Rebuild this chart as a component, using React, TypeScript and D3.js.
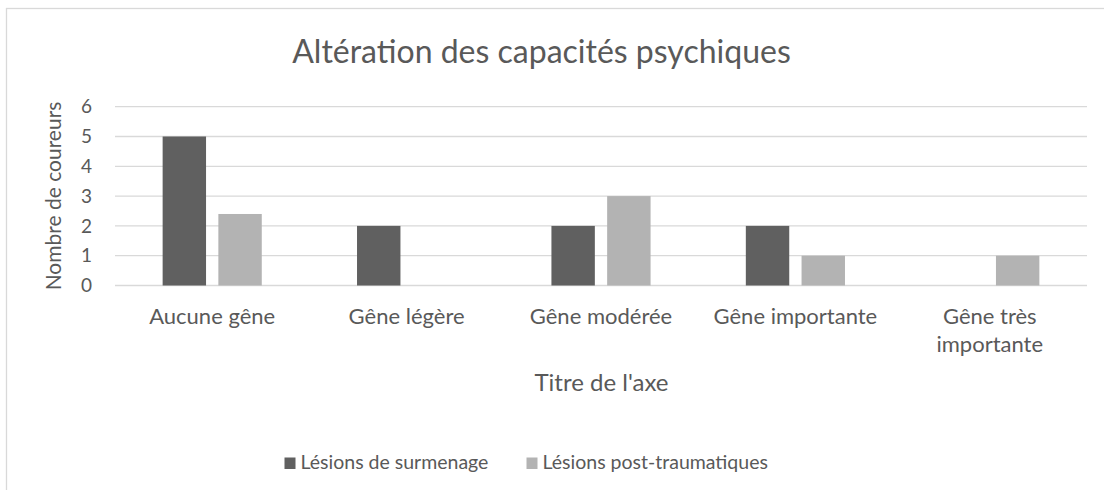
import React from "react";
import * as d3 from "d3";

const categories = ["Aucune gêne", "Gêne légère", "Gêne modérée", "Gêne importante", "Gêne très importante"];
const seriesNames = ["Lésions de surmenage", "Lésions post-traumatiques"];
const surmenage = [5, 2, 2, 2, 0];
const postTrauma = [2.4, 0, 3, 1, 1];
const yTicks = [0, 1, 2, 3, 4, 5, 6];
const colors = ["#606060", "#b3b3b3"];

const W = 1104;
const H = 490;
const font = "Lato, 'Open Sans', sans-serif";
const textColor = "#595959";

// wrap long category labels on two lines like Excel does
const labelLines = (c: string) => (c === "Gêne très importante" ? ["Gêne très", "importante"] : [c]);

export default function App() {
  const x0 = d3.scaleBand().domain(categories).range([115, 1087]).paddingInner(0).paddingOuter(0);
  const bw = x0.bandwidth();
  const x1 = d3
    .scaleBand()
    .domain(seriesNames)
    .range([bw * 0.245, bw * 0.755])
    .paddingInner(0.221)
    .paddingOuter(0);
  const y = d3.scaleLinear().domain([0, 6]).range([285.5, 106.7]);

  const values = [surmenage, postTrauma];

  return (
    <svg width={W} height={H} style={{ position: "absolute", left: 0, top: 0, background: "#fff" }}>
      <rect x={6.5} y={8.5} width={1300} height={700} fill="#fff" stroke="#d9d9d9" strokeWidth={1.3} />

      <text x={541.5} y={63} textAnchor="middle" fontFamily={font} fontSize={32} fill={textColor}>
        Altération des capacités psychiques
      </text>

      {yTicks.map((t) => (
        <g key={t}>
          <line x1={115} x2={1087} y1={y(t)} y2={y(t)} stroke="#d9d9d9" strokeWidth={1.3} />
          <text x={92} y={y(t)} dy="0.35em" textAnchor="end" fontFamily={font} fontSize={19} fill={textColor}>
            {t}
          </text>
        </g>
      ))}

      {categories.map((c, i) => (
        <g key={c} transform={`translate(${x0(c)},0)`}>
          {seriesNames.map((s, j) => {
            const v = values[j][i];
            if (!v) return null;
            return (
              <rect
                key={s}
                x={x1(s)}
                y={y(v)}
                width={x1.bandwidth()}
                height={y(0) - y(v)}
                fill={colors[j]}
              />
            );
          })}
          <text textAnchor="middle" fontFamily={font} fontSize={22} fill={textColor}>
            {labelLines(c).map((l, k) => (
              <tspan key={k} x={bw / 2} y={323.5 + k * 28.5}>
                {l}
              </tspan>
            ))}
          </text>
        </g>
      ))}

      <text x={601.5} y={391} textAnchor="middle" fontFamily={font} fontSize={24} fill={textColor}>
        Titre de l'axe
      </text>

      <text
        transform="translate(61,196) rotate(-90)"
        textAnchor="middle"
        fontFamily={font}
        fontSize={21}
        fill={textColor}
      >
        Nombre de coureurs
      </text>

      {seriesNames.map((s, j) => {
        const lx = [284.5, 526.5][j];
        return (
          <g key={s}>
            <rect x={lx} y={457.5} width={11} height={11.5} fill={colors[j]} />
            <text x={lx + 16} y={469} fontFamily={font} fontSize={19.5} fill={textColor}>
              {s}
            </text>
          </g>
        );
      })}
    </svg>
  );
}
